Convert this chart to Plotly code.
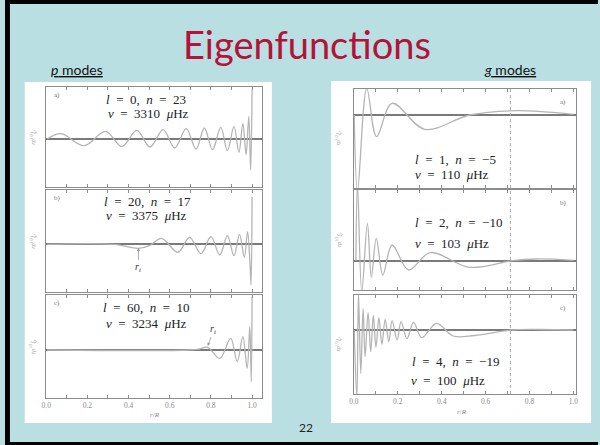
import plotly.graph_objects as go

# ---------------- data ----------------
# p modes, panel a: l=0, n=23
pa_r = [0.005, 0.072, 0.184, 0.288, 0.368, 0.44, 0.504, 0.568, 0.624, 0.68, 0.728, 0.768,
        0.808, 0.848, 0.88, 0.912, 0.936, 0.955, 0.971, 0.984, 0.993, 1.0]
pa_y = [0.0, 0.107, -0.133, 0.153, -0.147, 0.173, -0.16, 0.187, -0.18, 0.207, -0.2, 0.22,
        -0.213, 0.233, -0.233, 0.253, -0.267, 0.307, -0.313, 0.45, -0.62, 0.99]
# p modes, panel b: l=20, n=17
pb_r = [0.005, 0.33, 0.448, 0.504, 0.56, 0.64, 0.696, 0.752, 0.8, 0.843, 0.88, 0.912, 0.939,
        0.962, 0.978, 0.99, 0.995, 1.0]
pb_y = [0.0, 0.0, -0.08, -0.02, 0.12, -0.16, 0.14, -0.187, 0.153, -0.213, 0.173, -0.227, 0.2,
        -0.253, 0.253, -0.4, -0.81, 0.95]
# p modes, panel c: l=60, n=10
pc_r = [0.005, 0.696, 0.744, 0.784, 0.843, 0.896, 0.928, 0.955, 0.976, 0.989, 0.996, 1.0]
pc_y = [0.0, 0.0, 0.02, 0.053, -0.167, 0.233, -0.233, 0.267, -0.367, 0.467, -0.633, 1.07]

# g modes, panel a: l=1, n=-5
ga_r = [0.0015, 0.0165, 0.0586, 0.1036, 0.174, 0.324, 0.527, 0.737, 1.0]
ga_y = [0.0, -1.53, 0.533, -0.433, 0.233, -0.287, 0.0, 0.087, 0.013]
# g modes, panel b: l=2, n=-10
gb_r = [0.009, 0.0165, 0.036, 0.0616, 0.0796, 0.102, 0.132, 0.174, 0.249, 0.347, 0.527,
        0.722, 0.827, 1.0]
gb_y = [0.0, 1.55, -0.62, 0.747, -0.333, 0.447, -0.287, 0.313, -0.187, 0.16, -0.133,
        0.0, 0.033, 0.007]
# g modes, panel c: l=4, n=-19
gc_r = [0.0015, 0.0135, 0.021, 0.0315, 0.042, 0.051, 0.0646, 0.0766, 0.0886, 0.1006, 0.114,
        0.1276, 0.1426, 0.159, 0.174, 0.197, 0.215, 0.242, 0.272, 0.309, 0.377, 0.452,
        0.55, 0.72, 0.85, 1.0]
gc_y = [0.0, -1.35, 0.73, -0.87, 0.433, -0.53, 0.347, -0.433, 0.293, -0.347, 0.247,
        -0.287, 0.213, -0.233, 0.187, -0.2, 0.167, -0.173, 0.153, -0.153, 0.133, -0.12,
        -0.11, 0.0, 0.01, 0.0]

r_tp_b = 0.448      # turning point, p mode b
r_tp_c = 0.785      # turning point, p mode c
r_bcz = 0.713       # base of convection zone

x_tickvals = [0.0, 0.1, 0.2, 0.3, 0.4, 0.5, 0.6, 0.7, 0.8, 0.9, 1.0]
x_ticklabels = ["0.0", "", "0.2", "", "0.4", "", "0.6", "", "0.8", "", "1.0"]

S = "\u2002"
p_labels = [("a)", f"<i>l</i>{S}={S}0,{S}<i>n</i>{S}={S}23", f"<i>ν</i>{S}={S}3310{S}<i>μ</i>Hz"),
            ("b)", f"<i>l</i>{S}={S}20,{S}<i>n</i>{S}={S}17", f"<i>ν</i>{S}={S}3375{S}<i>μ</i>Hz"),
            ("c)", f"<i>l</i>{S}={S}60,{S}<i>n</i>{S}={S}10", f"<i>ν</i>{S}={S}3234{S}<i>μ</i>Hz")]
g_labels = [("a)", f"<i>l</i>{S}={S}1,{S}<i>n</i>{S}={S}−5", f"<i>ν</i>{S}={S}110{S}<i>μ</i>Hz"),
            ("b)", f"<i>l</i>{S}={S}2,{S}<i>n</i>{S}={S}−10", f"<i>ν</i>{S}={S}103{S}<i>μ</i>Hz"),
            ("c)", f"<i>l</i>{S}={S}4,{S}<i>n</i>{S}={S}−19", f"<i>ν</i>{S}={S}100{S}<i>μ</i>Hz")]

# ---------------- layout helpers ----------------
W, H = 600, 445
def fx(px):
    return px / W
def fy(py):
    return 1 - py / H

BG = "#badfe2"
CURVE = "#b4b4b4"
FRAME = "#8c8c8c"
SERIF = "Liberation Serif, DejaVu Serif, serif"
COMIC = "Comic Sans MS, Lato, sans-serif"

fig = go.Figure()

left_x = (41.7, 260)
right_x = (353, 578)
left_panels = [(87, 187, (-0.96, 1.04)), (190, 292, (-0.953, 1.087)), (295, 398, (-0.96, 1.1))]
right_panels = [(89, 188, (-1.46, 0.52)), (190, 290, (-0.587, 1.413)), (295, 394, (-1.28, 0.7))]

series_p = [(pa_r, pa_y), (pb_r, pb_y), (pc_r, pc_y)]
series_g = [(ga_r, ga_y), (gb_r, gb_y), (gc_r, gc_y)]

axis_common = dict(showline=True, linecolor=FRAME, linewidth=1.3, mirror="allticks",
                   showgrid=False, zeroline=False)

annotations = []
shapes = []


def note(x, y, text, size, color, family=SERIF, angle=0):
    return dict(x=fx(x), y=fy(y), xref="paper", yref="paper", text=text, showarrow=False,
                xanchor="center", yanchor="middle", textangle=angle,
                font=dict(family=family, size=size, color=color))


idx = 0
for side, xs, panels, series, labels, xrange_ in [
        ("p", left_x, left_panels, series_p, p_labels, (0.0, 1.048)),
        ("g", right_x, right_panels, series_g, g_labels, (0.0, 1.013))]:
    for k in range(3):
        idx += 1
        xa = "x" if idx == 1 else f"x{idx}"
        ya = "y" if idx == 1 else f"y{idx}"
        top, bot, yr = panels[k]
        rr, yy = series[k]
        fig.add_trace(go.Scatter(x=rr, y=yy, mode="lines", xaxis=xa, yaxis=ya,
                                 line=dict(color=CURVE, width=1.3, shape="spline", smoothing=1.0),
                                 hoverinfo="skip", showlegend=False))
        xkey = "xaxis" if idx == 1 else f"xaxis{idx}"
        ykey = "yaxis" if idx == 1 else f"yaxis{idx}"
        fig.update_layout(**{
            xkey: dict(domain=[fx(xs[0]), fx(xs[1])], anchor=ya, range=list(xrange_),
                       tickvals=x_tickvals, ticktext=x_ticklabels, ticks="inside", ticklen=3,
                       tickcolor=FRAME, showticklabels=(k == 2),
                       tickfont=dict(family=SERIF, size=7.5, color="#8a8a8a"),
                       **axis_common),
            ykey: dict(domain=[fy(bot), fy(top)], anchor=xa, range=list(yr),
                       showticklabels=False, ticks="", showline=True, linecolor=FRAME,
                       linewidth=1.3, mirror=True, showgrid=False,
                       zeroline=True, zerolinecolor="#7a7a7a", zerolinewidth=1.5),
        })
        lx = xs[0] + 11 if side == "p" else xs[1] - 13
        ly = top + 8 if side == "p" else top + 13
        annotations.append(note(lx, ly, labels[k][0], 7, "#777"))
        yt_x = 28 if side == "p" else 337
        annotations.append(note(yt_x, (top + bot) / 2,
                                "<i>rρ</i><sup>1/2</sup><i>ξ</i><sub><i>r</i></sub>", 6,
                                "#9a9a9a", angle=-90))
        if side == "g":
            shapes.append(dict(type="line", xref=xa, yref=f"{ya} domain", x0=r_bcz, x1=r_bcz,
                               y0=0, y1=1, line=dict(color="#a8a8a8", width=1, dash="dot")))

text_pos_p = [(143, 99, 145, 113), (144, 202, 143, 216), (143, 307, 143, 323)]
text_pos_g = [(456, 159, 452, 174), (459, 222, 452, 243), (456, 361, 448, 380)]
for labels, pos in [(p_labels, text_pos_p), (g_labels, text_pos_g)]:
    for (lab, t1, t2), (x1, y1, x2, y2) in zip(labels, pos):
        annotations.append(note(x1, y1, t1, 13, "#222"))
        annotations.append(note(x2, y2, t2, 13, "#222"))

annotations.append(dict(x=r_tp_b, y=-0.07, xref="x2", yref="y2", text="<i>r</i><sub><i>t</i></sub>",
                        showarrow=True, arrowhead=2, arrowsize=0.8, arrowwidth=0.8,
                        arrowcolor="#999", ax=0, ay=20,
                        font=dict(family=SERIF, size=10, color="#333")))
annotations.append(dict(x=r_tp_c, y=0.08, xref="x3", yref="y3", text="<i>r</i><sub><i>t</i></sub>",
                        showarrow=True, arrowhead=2, arrowsize=0.8, arrowwidth=0.8,
                        arrowcolor="#999", ax=6, ay=-17,
                        font=dict(family=SERIF, size=10, color="#333")))

annotations.append(note(151.7, 415, "<i>r</i>/<i>R</i>", 7, "#8a8a8a"))
annotations.append(note(462, 412, "<i>r</i>/<i>R</i>", 7, "#8a8a8a"))

annotations.append(note(306, 44, "Eigenfunctions", 38, "#b3123a", family=COMIC))
annotations.append(note(73, 70, "<u><i>p</i> modes</u>", 14, "#111", family=COMIC))
annotations.append(note(511, 70, "<u><i>g</i> modes</u>", 14, "#111", family=COMIC))
annotations.append(note(305, 427, "22", 12, "#222", family=COMIC))

shapes = [
    dict(type="rect", xref="paper", yref="paper", x0=fx(20), x1=fx(270), y0=fy(423), y1=fy(82),
         fillcolor="white", line=dict(width=0), layer="below"),
    dict(type="rect", xref="paper", yref="paper", x0=fx(330), x1=fx(593), y0=fy(423), y1=fy(81),
         fillcolor="white", line=dict(width=0), layer="below"),
    dict(type="rect", xref="paper", yref="paper", x0=0, x1=fx(5), y0=0, y1=1,
         fillcolor="black", line=dict(width=0)),
    dict(type="rect", xref="paper", yref="paper", x0=0, x1=1, y0=fy(4), y1=1,
         fillcolor="black", line=dict(width=0)),
    dict(type="rect", xref="paper", yref="paper", x0=0, x1=1, y0=0, y1=fy(442),
         fillcolor="black", line=dict(width=0)),
] + shapes

fig.update_layout(width=W, height=H, margin=dict(l=0, r=0, t=0, b=0),
                  paper_bgcolor=BG, plot_bgcolor="white",
                  annotations=annotations, shapes=shapes, showlegend=False)

fig.write_html("out.html", config={"displayModeBar": False},
               post_script="document.body.style.margin='0';document.body.style.overflow='hidden';")
